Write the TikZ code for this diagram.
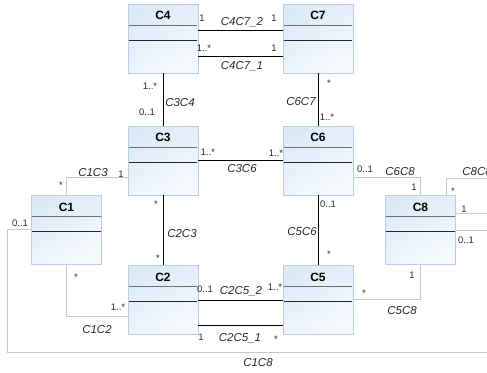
\documentclass[tikz,border=0pt]{standalone}
\usepackage{fontspec}
\setmainfont{Liberation Sans}
\usetikzlibrary{calc}
\definecolor{clsedge}{HTML}{BACBE2}
\definecolor{clstop}{HTML}{DCEAF8}
\definecolor{clsbot}{HTML}{F5F9FD}
\definecolor{sepgray}{HTML}{707070}
\definecolor{linkgray}{HTML}{C6C6C6}
\definecolor{inkdark}{HTML}{2A2A2A}
\tikzset{
  classbox/.style={rectangle, draw=clsedge, top color=clstop,
                   bottom color=clsbot, shading angle=30,
                   minimum width=70pt, minimum height=69pt, inner sep=0pt},
  classname/.style={font=\fontsize{12}{14}\selectfont\bfseries, inner sep=0pt},
  sepA/.style={sepgray, line width=1pt},
  sepB/.style={black!85, line width=1pt},
  assoc/.style={black, line width=0.9pt},
  assocL/.style={linkgray, line width=0.9pt},
  mult/.style={font=\fontsize{9.5}{11}\selectfont, text=inkdark, inner sep=0pt},
  role/.style={font=\fontsize{11.5}{13}\selectfont\itshape, text=inkdark,
               inner sep=0pt, text height=8.2pt, text depth=0pt},
}

\begin{document}
\begin{tikzpicture}[x=1pt, y=-1pt]

  \useasboundingbox (0,0) rectangle (487,372);
  \clip (0,0) rectangle (487,372);

  %% Classes
  \foreach \n/\x/\y in {C4/163/38.5, C7/318/38.5, C3/163/160.5, C6/318/160.5,
                        C1/66.5/230, C8/420.5/230, C2/163/300, C5/318/300}{
    \node[classbox] (\n) at (\x,\y) {};
    \node[classname] (\n-name) at ([yshift=-12pt]\n.north) {\n};
    \draw[sepA] ([xshift=1pt,yshift=-21.5pt]\n.north west)
             -- ([xshift=-1pt,yshift=-21.5pt]\n.north east);
    \draw[sepB] ([xshift=1pt,yshift=-36.5pt]\n.north west)
             -- ([xshift=-1pt,yshift=-36.5pt]\n.north east);
  }

  %% Free ends outside the frame
  \coordinate (rimA) at (495,178);
  \coordinate (rimB) at (495,352);
  \coordinate (rimC) at (7,352);

  %% Associations (black)
  \draw[assoc] ([yshift=-27pt]C4.north east) -- ([yshift=-27pt]C7.north west);
  \draw[assoc] ([yshift=-53pt]C4.north east) -- ([yshift=-53pt]C7.north west);
  \draw[assoc] (C4.south) -- (C3.north);
  \draw[assoc] (C7.south) -- (C6.north);
  \draw[assoc] (C3.east) -- (C6.west);
  \draw[assoc] (C3.south) -- (C2.north);
  \draw[assoc] (C6.south) -- (C5.north);
  \draw[assoc] ([yshift=-35pt]C2.north east) -- ([yshift=-35pt]C5.north west);
  \draw[assoc] ([yshift=-60pt]C2.north east) -- ([yshift=-60pt]C5.north west);

  %% Associations (grey)
  \draw[assocL] ([yshift=-52pt]C3.north west) -| (C1.north);
  \draw[assocL] ([yshift=-52pt]C6.north east) -| (C8.north);
  \draw[assocL] (C1.south) |- ([yshift=-51pt]C2.north west);
  \draw[assocL] ([yshift=-34pt]C5.north east) -| (C8.south);
  \draw[assocL] ([xshift=61pt]C8.north west) |- (rimA)
                |- ([yshift=-18pt]C8.north east);
  \draw[assocL] ([yshift=-34pt]C1.north west) -| (rimC) -- (rimB)
                |- ([yshift=-35pt]C8.north east);

  %% Multiplicities
  \foreach \t/\x/\y [count=\i] in {1/202/18, 1/274/18, 1..*/204/48, 1/274/48,
      1..*/150/86, 0..1/147/112, */329/83, 1..*/327/117,
      1..*/208/152, 1..*/276/153, 1/121/174, */61/185,
      */156/204, */158/258, 0..1/365/169, 1/414/187,
      */453/191, 1/464/209, 0..1/466/240, 0..1/328/204, */329/254,
      */76/277, 1..*/118/307, 0..1/205/289, 1..*/275/287,
      1/201/337, */276/339, */364/293, 1/412/275, 0..1/20/223}{
    \node[mult] (m\i) at (\x,\y) {\t};
  }

  %% Role names
  \foreach \t/\x/\y [count=\i] in {C4C7\_2/242/21, C4C7\_1/242/65,
      C3C4/180/102, C6C7/301/101, C3C6/242/168, C1C3/93/172,
      C2C3/182/233, C6C8/400/171, C8C8/477/171, C5C6/302/231,
      C1C2/97/329, C2C5\_2/241/290, C2C5\_1/240/337, C5C8/402/310,
      C1C8/258/362}{
    \node[role] (r\i) at (\x,\y) {\t};
  }

\end{tikzpicture}
\end{document}
